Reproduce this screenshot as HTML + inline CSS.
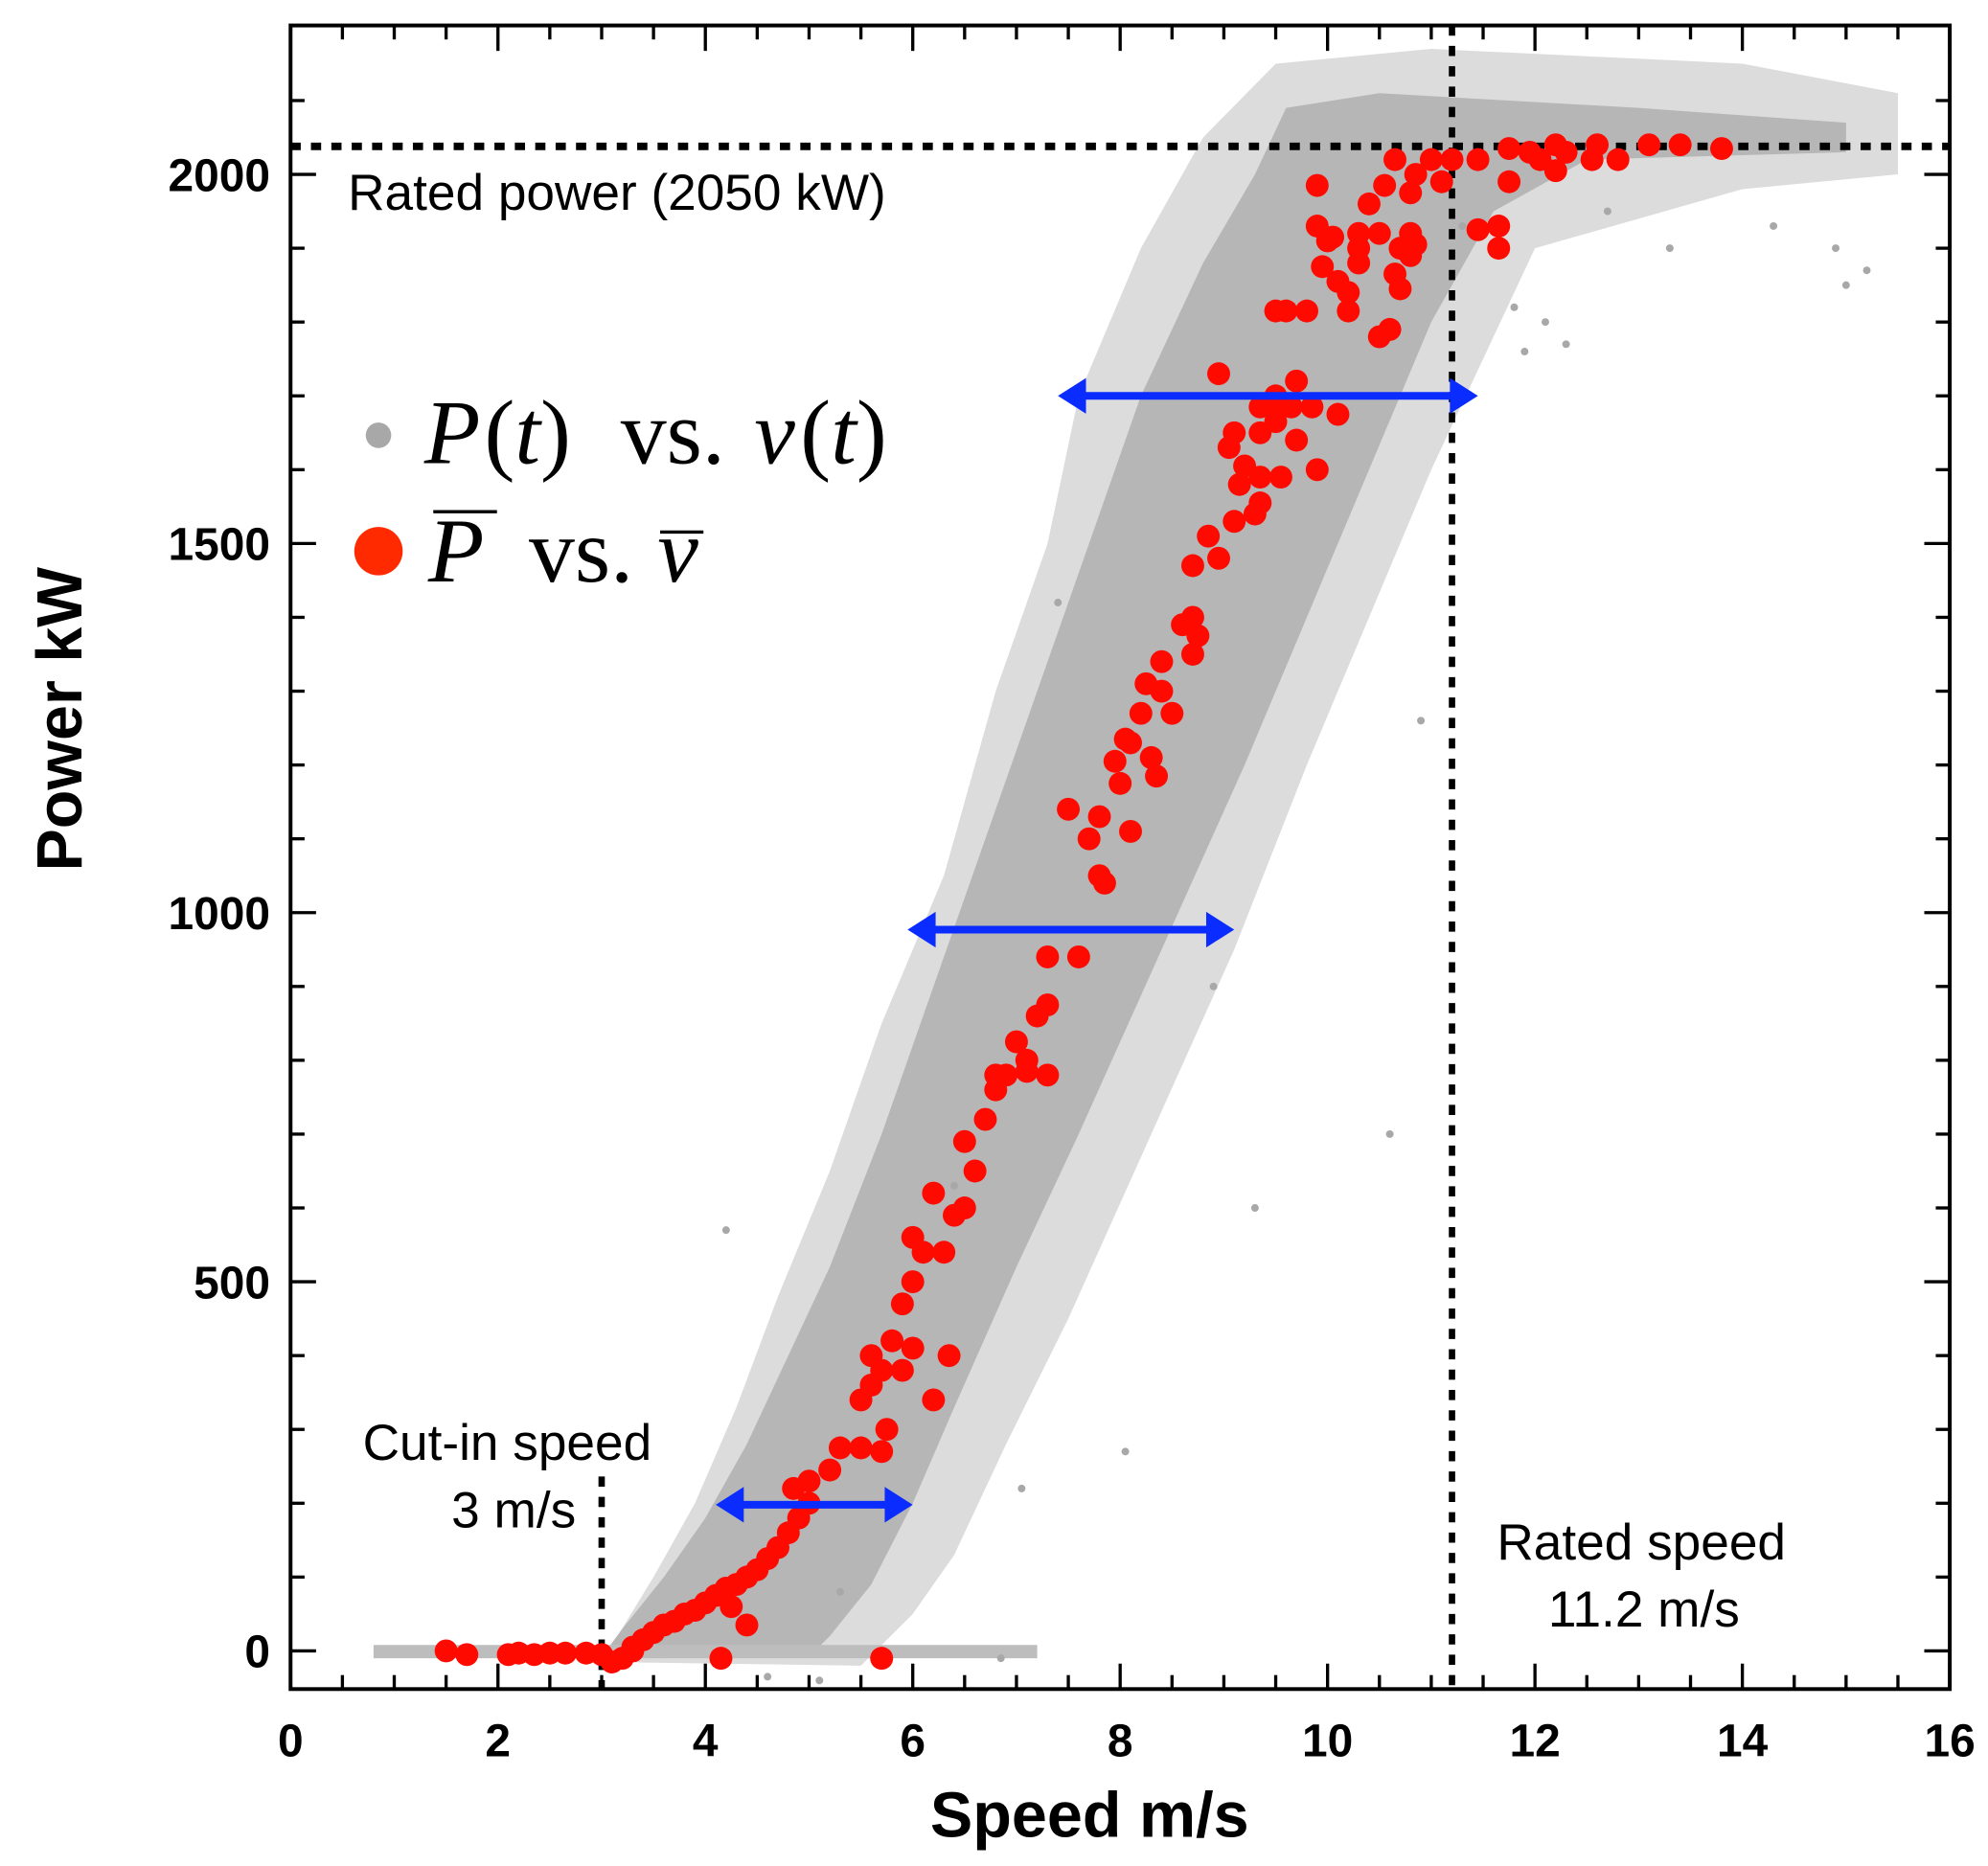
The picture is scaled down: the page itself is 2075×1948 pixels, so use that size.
<!DOCTYPE html>
<html><head><meta charset="utf-8"><style>
html,body{margin:0;padding:0;background:#fff;}
svg{display:block;}
text{font-family:"Liberation Sans",sans-serif;}
.tick{font-weight:bold;font-size:36px;}
.math{font-family:"Liberation Serif",serif;font-size:72px;}
</style></head><body>
<svg id="chart" width="2075" height="1948" viewBox="0 0 1560 1466" preserveAspectRatio="none" xmlns="http://www.w3.org/2000/svg">
<g id="cloud"></g>
<g id="marks"></g>
<g id="axes"></g>
<text x="273" y="165" font-size="40">Rated power (2050 kW)</text>
<text x="398" y="1147" font-size="40" text-anchor="middle">Cut-in speed</text>
<text x="452" y="1200" font-size="40" text-anchor="end">3 m/s</text>
<text x="1288" y="1225" font-size="40" text-anchor="middle">Rated speed</text>
<text x="1290" y="1278" font-size="40" text-anchor="middle">11.2 m/s</text>
<g>
<circle cx="297" cy="342" r="10" fill="#a8a8a8"/>
<g>
<text class="math" x="333" y="364" font-style="italic">P</text>
<text class="math" x="380" y="364">(<tspan font-style="italic">t</tspan>)</text>
<text class="math" x="487" y="364">vs.</text>
<text class="math" x="592" y="364" font-style="italic">v</text>
<text class="math" x="628" y="364">(<tspan font-style="italic">t</tspan>)</text>
</g>
<circle cx="297" cy="433" r="19" fill="#ff2a00"/>
<g>
<text class="math" x="336" y="457" font-style="italic">P</text>
<text class="math" x="415" y="457">vs.</text>
<text class="math" x="516" y="457" font-style="italic">v</text>
<line x1="340" y1="402" x2="390" y2="402" stroke="#000" stroke-width="2.5"/>
<line x1="518" y1="418" x2="552" y2="418" stroke="#000" stroke-width="2.5"/>
</g>
</g>
<text transform="translate(64,565) rotate(-90)" font-size="50" font-weight="bold" text-anchor="middle">Power kW</text>
<text x="855" y="1443" font-size="50" font-weight="bold" text-anchor="middle">Speed m/s</text>
</svg>
<script>
const xTicks=[0,2,4,6,8,10,12,14,16];
const yTicks=[0,500,1000,1500,2000];
const ratedPower=2050, ratedSpeed=11.2, cutIn=3;
const denseSpeed=[3.0,3.2,3.6,4.0,4.4,4.8,5.2,5.7,6.2,6.7,7.2,7.7,8.2,8.8,9.3,9.6,10.5,13,15,15,12.5,11.6,11.0,10.4,9.8,9.2,8.4,7.6,7.0,6.4,6.0,5.6,5.2,5.0];
const densePower=[-8,30,100,180,280,400,520,700,900,1100,1300,1500,1700,1880,2000,2090,2110,2090,2070,2030,2020,1950,1800,1600,1400,1200,950,700,520,330,200,90,20,-8];
const sparseSpeed=[3.0,3.5,3.9,4.3,4.7,5.2,5.7,6.3,6.8,7.3,7.6,8.2,8.8,9.5,11,14,15.5,15.5,14,12,11.5,11.0,10.4,9.8,9.1,8.3,7.5,6.9,6.4,6.0,5.5];
const sparsePower=[-15,100,200,330,480,650,850,1050,1300,1500,1700,1900,2050,2150,2170,2150,2110,2000,1980,1900,1750,1600,1400,1200,950,700,450,280,130,50,-20];
const zeroSpeed=[0.8,7.2,7.2,0.8];
const zeroPower=[8,8,-10,-10];
const grayX=[4.2,6.4,8.05,7.05,11.8,12.3,13.3,14.9,15.2,12.7,9.3,10.6,5.1,6.85,4.6,11.3,8.9,7.4,5.3,10.9,14.3,15.0,11.9,12.1];
const grayY=[570,630,270,220,1820,1770,1900,1900,1870,1950,600,700,-40,-10,-35,1930,900,1420,80,1260,1930,1850,1760,1800];
const redX=[1.5,1.7,2.1,2.2,2.35,2.5,2.65,2.85,3.0,3.1,3.2,3.3,4.15,5.7,4.4,4.25,
3.3,3.4,3.5,3.6,3.7,3.8,3.9,4.0,4.1,4.2,4.3,4.4,4.5,4.6,4.7,4.8,4.9,5.0,4.85,5.0,5.2,5.3,5.5,5.7,5.5,5.6,5.7,5.6,5.8,5.9,6.0,5.9,6.0,6.1,6.0,5.75,6.2,6.35,6.3,6.4,6.2,6.5,6.6,6.5,6.7,6.8,6.9,7.1,7.2,
7.6,7.3,7.3,7.0,7.1,6.8,7.3,7.85,7.8,7.7,7.5,7.8,8.1,8.0,7.95,8.05,8.1,8.35,8.3,8.2,8.5,8.25,8.4,8.4,8.7,8.75,8.7,8.6,8.7,8.95,8.85,9.1,9.3,9.35,9.15,9.2,9.35,9.55,9.9,9.05,9.1,9.35,9.5,9.7,9.35,9.5,9.65,9.85,10.1,9.7,8.95,9.5,
9.6,9.5,9.8,10.2,10.2,9.95,10.1,10.3,10.3,10.0,10.05,10.3,10.5,10.7,10.8,10.65,10.7,10.6,10.5,10.85,10.8,9.9,9.9,10.4,10.55,10.8,10.85,10.65,11.0,11.1,11.2,11.45,11.75,11.45,11.65,11.65,11.75,11.95,12.05,12.2,12.3,12.2,12.55,12.6,12.8,13.1,13.4,13.8];
const redY=[0,-5,-5,-3,-5,-3,-3,-3,-5,-15,-10,0,-10,-10,35,60,
5,15,25,35,40,50,55,65,75,85,90,100,110,125,140,160,180,200,220,230,245,275,275,270,340,360,380,400,420,380,410,470,500,540,560,300,340,400,540,590,620,600,650,690,720,760,780,800,860,
940,940,875,825,785,780,780,1040,1050,1100,1140,1130,1110,1175,1205,1235,1230,1185,1210,1270,1270,1310,1300,1340,1350,1375,1400,1390,1470,1480,1510,1530,1540,1555,1580,1605,1590,1590,1600,1630,1650,1650,1665,1640,1685,1685,1685,1685,1675,1720,1730,1700,
1815,1815,1815,1815,1840,1875,1855,1880,1900,1910,1915,1920,1920,1900,1890,1865,1845,1790,1780,1905,1920,1930,1985,1960,1985,1975,2000,2020,2020,1990,2020,2020,1990,1925,1930,1900,2035,2030,2020,2005,2030,2040,2020,2040,2020,2040,2040,2035];
const arrowY=[1700,977,198];
const arrowX0=[7.4,5.95,4.1];
const arrowX1=[11.45,9.1,6.0];

const L=228,R=1530,T=20,B=1327;
const sx=v=>L+v*(R-L)/16;
const sy=v=>1297-v*0.58;
const NS='http://www.w3.org/2000/svg';
function mk(tag,attrs,parent){const e=document.createElementNS(NS,tag);for(const k in attrs)e.setAttribute(k,attrs[k]);parent.appendChild(e);return e;}
const cloud=document.getElementById('cloud'),marks=document.getElementById('marks'),axes=document.getElementById('axes');

let p=mk('polygon',{points:sparseSpeed.map((s,i)=>sx(s)+','+sy(sparsePower[i])).join(' '),fill:'#dcdcdc'},cloud);


p=mk('polygon',{points:denseSpeed.map((s,i)=>sx(s)+','+sy(densePower[i])).join(' '),fill:'#b6b6b6'},cloud);


p=mk('polygon',{points:zeroSpeed.map((s,i)=>sx(s)+','+sy(zeroPower[i])).join(' '),fill:'#bdbdbd'},cloud);


grayX.forEach((s,i)=>{const c=mk('circle',{cx:sx(s),cy:sy(grayY[i]),r:3,fill:'#a8a8a8'},cloud);

});

let d=mk('line',{x1:L,x2:R,y1:sy(ratedPower)+7,y2:sy(ratedPower)+7,stroke:'#000','stroke-width':6,'stroke-dasharray':'8 8'},marks);


d=mk('line',{x1:sx(ratedSpeed),x2:sx(ratedSpeed),y1:T,y2:B,stroke:'#000','stroke-width':5,'stroke-dasharray':'8 8'},marks);


d=mk('line',{x1:sx(cutIn),x2:sx(cutIn),y1:1160,y2:B,stroke:'#000','stroke-width':5,'stroke-dasharray':'8 8'},marks);



redX.forEach((s,i)=>{const c=mk('circle',{cx:sx(s),cy:sy(redY[i]),r:9,fill:'#ff0a00'},marks);

});

arrowY.forEach((v,i)=>{const y=sy(v),a=sx(arrowX0[i]),b=sx(arrowX1[i]);
const g=mk('g',{},marks);


mk('line',{x1:a+15,x2:b-15,y1:y,y2:y,stroke:'#0a2cff','stroke-width':6},g);
mk('polygon',{points:`${a},${y} ${a+22},${y-14} ${a+22},${y+14}`,fill:'#0a2cff'},g);
mk('polygon',{points:`${b},${y} ${b-22},${y-14} ${b-22},${y+14}`,fill:'#0a2cff'},g);});

let f=mk('rect',{x:L,y:T,width:R-L,height:B-T,fill:'none',stroke:'#000','stroke-width':3},axes);


for(let v=0;v<=16.001;v+=0.5){const x=sx(v),maj=Math.abs(v-Math.round(v/2)*2)<1e-6,len=maj?20:11;
mk('line',{x1:x,x2:x,y1:B,y2:B-len,stroke:'#000','stroke-width':2.5},axes);
mk('line',{x1:x,x2:x,y1:T,y2:T+len,stroke:'#000','stroke-width':2.5},axes);}
for(let v=0;v<=2100;v+=100){const y=sy(v),maj=v%500===0,len=maj?20:11;
mk('line',{x1:L,x2:L+len,y1:y,y2:y,stroke:'#000','stroke-width':2.5},axes);
mk('line',{x1:R,x2:R-len,y1:y,y2:y,stroke:'#000','stroke-width':2.5},axes);}
xTicks.forEach(v=>{const t=mk('text',{x:sx(v),y:1380,'text-anchor':'middle',class:'tick'},axes);t.textContent=v;

});
yTicks.forEach(v=>{const t=mk('text',{x:212,y:sy(v)+13,'text-anchor':'end',class:'tick'},axes);t.textContent=v;

});
</script>
</body></html>
